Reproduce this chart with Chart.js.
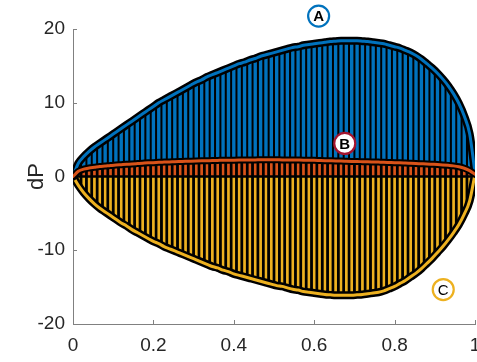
<!DOCTYPE html>
<html lang="en">
<head>
    <meta charset="UTF-8">
    <title>dP</title>
    <script src="https://cdn.jsdelivr.net/npm/chart.js"></script>
    <style>
        html, body { margin: 0; padding: 0; background: #ffffff; }
        #wrap { width: 477px; height: 362px; }
    </style>
</head>
<body>
    <div id="wrap"><canvas id="dpChart" width="477" height="362"></canvas></div>

    <script>
        // sample positions
        const xs = [0, 0.0133, 0.0267, 0.04, 0.0533, 0.0667, 0.08, 0.0933, 0.1067, 0.12, 0.1333, 0.1467, 0.16, 0.1733, 0.1867,
            0.2, 0.2133, 0.2267, 0.24, 0.2533, 0.2667, 0.28, 0.2933, 0.3067, 0.32, 0.3333, 0.3467, 0.36, 0.3733, 0.3867,
            0.4, 0.4133, 0.4267, 0.44, 0.4533, 0.4667, 0.48, 0.4933, 0.5067, 0.52, 0.5333, 0.5467, 0.56, 0.5733, 0.5867,
            0.6, 0.6133, 0.6267, 0.64, 0.6533, 0.6667, 0.68, 0.6933, 0.7067, 0.72, 0.7333, 0.7467, 0.76, 0.7733, 0.7867,
            0.8, 0.8133, 0.8267, 0.84, 0.8533, 0.8667, 0.88, 0.8933, 0.9067, 0.92, 0.9333, 0.9467, 0.96, 0.9733, 0.9867, 1];

        // upper curve (A)
        const curveA = [0, 1.8, 2.7, 3.4, 4.0, 4.5, 5.0, 5.5, 6.0, 6.5, 7.0, 7.5, 8.0, 8.5, 9.0,
            9.5, 10.0, 10.4, 10.8, 11.2, 11.6, 12.0, 12.4, 12.8, 13.1, 13.5, 13.8, 14.1, 14.4, 14.7,
            15.0, 15.3, 15.5, 15.8, 16.0, 16.3, 16.5, 16.7, 16.9, 17.1, 17.3, 17.5, 17.6, 17.8, 17.9,
            18.0, 18.1, 18.2, 18.3, 18.35, 18.4, 18.4, 18.4, 18.4, 18.35, 18.3, 18.2, 18.1, 18.0, 17.8,
            17.6, 17.4, 17.1, 16.8, 16.4, 15.9, 15.3, 14.7, 14.0, 13.2, 12.3, 11.2, 9.9, 8.2, 5.8, 0.5];

        // middle curve (B)
        const curveB = [0, 0.7, 1.0, 1.15, 1.25, 1.35, 1.42, 1.5, 1.55, 1.6, 1.65, 1.7, 1.75, 1.8, 1.85,
            1.88, 1.92, 1.95, 1.98, 2.0, 2.03, 2.06, 2.08, 2.1, 2.12, 2.14, 2.16, 2.18, 2.2, 2.21,
            2.22, 2.23, 2.24, 2.25, 2.25, 2.26, 2.26, 2.26, 2.26, 2.25, 2.25, 2.24, 2.23, 2.22, 2.2,
            2.19, 2.17, 2.15, 2.13, 2.11, 2.09, 2.07, 2.05, 2.03, 2.01, 1.99, 1.97, 1.95, 1.93, 1.9,
            1.87, 1.85, 1.82, 1.79, 1.76, 1.73, 1.7, 1.66, 1.62, 1.57, 1.51, 1.44, 1.32, 1.12, 0.8, 0.3];

        // lower curve (C)
        const curveC = [0, -1.2, -2.2, -3.0, -3.7, -4.3, -4.8, -5.3, -5.8, -6.3, -6.7, -7.2, -7.6, -8.0, -8.4,
            -8.8, -9.1, -9.5, -9.8, -10.1, -10.4, -10.7, -11.0, -11.3, -11.6, -11.9, -12.2, -12.4, -12.7, -12.9,
            -13.2, -13.4, -13.6, -13.8, -14.0, -14.2, -14.4, -14.6, -14.8, -14.9, -15.1, -15.3, -15.4, -15.6, -15.7,
            -15.8, -15.9, -16.0, -16.05, -16.1, -16.1, -16.1, -16.1, -16.05, -16.0, -15.9, -15.8, -15.7, -15.5, -15.2,
            -14.9, -14.5, -14.1, -13.6, -13.1, -12.5, -11.8, -11.1, -10.3, -9.5, -8.6, -7.6, -6.5, -5.1, -3.3, 0.3];

        const xTickValues = [0, 0.2, 0.4, 0.6, 0.8, 1];
        const xTickLabels = ['0', '0.2', '0.4', '0.6', '0.8', '1'];
        const yTickValues = [-20, -10, 0, 10, 20];
        const yTickLabels = ['-20', '-10', '0', '10', '20'];

        // circled letters
        const markerX = [0.611, 0.676, 0.921];
        const markerY = [21.75, 4.48, -15.33];
        const markerText = ['A', 'B', 'C'];
        const markerColor = ['#0072BD', '#A2142F', '#EDB120'];

        const BLUE = '#0072BD', ORANGE = '#D95319', YELLOW = '#EDB120';
        const AXIS = '#808080', TEXT = '#262626';
        const FONT = "'Liberation Sans', Arial, sans-serif";

        const pts = (arr) => xs.map((x, i) => ({ x: x, y: arr[i] }));
        const span = (lo, hi) => xs.map((x, i) => ({ x: x, y: [lo[i], hi[i]] }));
        const zeros = xs.map(() => 0);

        const lineBase = {
            type: 'line', pointRadius: 0, fill: false, cubicInterpolationMode: 'monotone',
            borderCapStyle: 'round', borderJoinStyle: 'round'
        };
        const barBase = { type: 'bar', grouped: false, barThickness: 2.7, borderSkipped: false, borderColor: '#000' };

        // inward tick marks, drawn under the data like MATLAB does
        const innerTicks = {
            id: 'innerTicks',
            beforeDatasetsDraw(chart) {
                const { ctx, chartArea, scales: { x, y } } = chart;
                ctx.save();
                ctx.strokeStyle = AXIS;
                ctx.lineWidth = 1;
                ctx.beginPath();
                xTickValues.forEach(v => {
                    const px = Math.round(x.getPixelForValue(v)) + 0.5;
                    ctx.moveTo(px, chartArea.bottom);
                    ctx.lineTo(px, chartArea.bottom - 4);
                });
                yTickValues.forEach(v => {
                    const py = Math.round(y.getPixelForValue(v)) + 0.5;
                    ctx.moveTo(chartArea.left, py);
                    ctx.lineTo(chartArea.left + 4, py);
                });
                ctx.stroke();
                ctx.restore();
            }
        };

        const circledLabels = {
            id: 'circledLabels',
            afterDatasetsDraw(chart) {
                const { ctx, scales: { x, y } } = chart;
                ctx.save();
                markerText.forEach((t, i) => {
                    const cx = x.getPixelForValue(markerX[i]);
                    const cy = y.getPixelForValue(markerY[i]);
                    ctx.beginPath();
                    ctx.arc(cx, cy, 10.5, 0, Math.PI * 2);
                    ctx.fillStyle = '#fff';
                    ctx.fill();
                    ctx.lineWidth = 2.2;
                    ctx.strokeStyle = markerColor[i];
                    ctx.stroke();
                    ctx.fillStyle = '#000';
                    ctx.font = (t === 'C' ? '' : 'bold ') + '15px ' + FONT;
                    ctx.textAlign = 'center';
                    ctx.textBaseline = 'middle';
                    ctx.fillText(t, cx, cy + 1);
                });
                ctx.restore();
            }
        };

        new Chart(document.getElementById('dpChart'), {
            type: 'bar',
            data: {
                datasets: [
                    // black backing between the outer curves
                    { ...lineBase, data: pts(curveA), borderWidth: 0, fill: { target: 1 }, backgroundColor: '#000', order: 10 },
                    { ...lineBase, data: pts(curveC), borderColor: '#000', borderWidth: 8, order: 6 },
                    { ...barBase, data: span(curveB, curveA), backgroundColor: BLUE, borderWidth: 0, order: 9 },
                    { ...barBase, data: span(zeros, curveB), backgroundColor: ORANGE, borderWidth: { bottom: 1.2 }, order: 8 },
                    { ...barBase, data: span(curveC, zeros), backgroundColor: YELLOW, borderWidth: { top: 1.2 }, order: 7 },
                    { ...lineBase, data: pts(curveC), borderColor: YELLOW, borderWidth: 3, order: 5 },
                    { ...lineBase, data: pts(curveA), borderColor: '#000', borderWidth: 8, order: 4 },
                    { ...lineBase, data: pts(curveA), borderColor: BLUE, borderWidth: 3, order: 3 },
                    { ...lineBase, data: pts(curveB), borderColor: '#000', borderWidth: 7, order: 2 },
                    { ...lineBase, data: pts(curveB), borderColor: ORANGE, borderWidth: 3, order: 1 }
                ]
            },
            options: {
                responsive: false,
                animation: false,
                layout: { padding: { top: 29, right: 2, left: 0, bottom: 0 } },
                plugins: { legend: { display: false }, tooltip: { enabled: false } },
                scales: {
                    x: {
                        type: 'linear', min: 0, max: 1, offset: false,
                        grid: { display: true, drawOnChartArea: false, drawTicks: false, offset: false },
                        border: { color: AXIS, width: 1 },
                        afterBuildTicks: (s) => { s.ticks = xTickValues.map(v => ({ value: v })); },
                        afterFit: (s) => { s.height = 38; s.paddingLeft = 0; s.paddingRight = 0; },
                        ticks: {
                            color: TEXT, padding: 10, maxRotation: 0, autoSkip: false,
                            font: { family: FONT, size: 19 },
                            callback: (v, i) => xTickLabels[i]
                        }
                    },
                    y: {
                        min: -20, max: 20,
                        grid: { display: true, drawOnChartArea: false, drawTicks: false },
                        border: { color: AXIS, width: 1 },
                        afterBuildTicks: (s) => { s.ticks = yTickValues.map(v => ({ value: v })); },
                        afterFit: (s) => { s.width = 73; },
                        ticks: {
                            color: TEXT, padding: 8, autoSkip: false,
                            font: { family: FONT, size: 19 },
                            callback: (v, i) => yTickLabels[i]
                        },
                        title: {
                            display: true, text: 'dP', color: TEXT,
                            font: { family: FONT, size: 22 },
                            padding: { top: 24, bottom: 0 }
                        }
                    }
                }
            },
            plugins: [innerTicks, circledLabels]
        });
    </script>
</body>
</html>
